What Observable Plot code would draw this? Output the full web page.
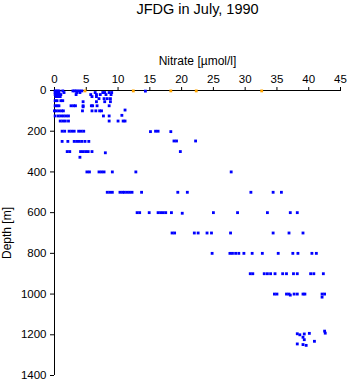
<!DOCTYPE html>
<html>
<head>
<meta charset="utf-8">
<script src="https://cdn.jsdelivr.net/npm/d3@7"></script>
<script src="https://cdn.jsdelivr.net/npm/@observablehq/plot@0.6"></script>
<style>
  html, body { margin: 0; padding: 0; background: #fff; }
</style>
</head>
<body>
<div id="chart"></div>
<script>
const title = "JFDG in July, 1990";
const xLabel = "Nitrate [µmol/l]";
const yLabel = "Depth [m]";
const xTicks = [0, 5, 10, 15, 20, 25, 30, 35, 40, 45];
const yTicks = [0, 200, 400, 600, 800, 1000, 1200, 1400];

// blue samples: nitrate (µmol/l) and depth (m), parallel arrays
const blueNitrate = [
  // ~0 m
  0.1, 0.4, 0.7, 1.3, 2.9, 3.2, 3.5, 3.9, 4.3, 14.3,
  // 10 m
  0.1, 0.4, 0.7, 1.5, 3.5, 4.0, 6.4, 7.6, 7.9, 8.6, 9.0,
  // 20 m
  0.1, 0.4, 0.7, 1.0, 3.4, 5.7, 6.6, 7.2, 8.1, 8.9,
  // 30-40 m
  0.2, 0.5, 0.9, 5.9, 6.6, 7.0, 7.8, 8.3, 8.8,
  // 50 m
  0.1, 0.4, 1.0, 1.3, 4.5, 6.6, 7.9, 8.8,
  // 75 m
  0.1, 0.4, 0.7, 2.6, 3.0, 3.3, 4.5, 5.8, 6.0, 6.7, 8.6,
  // 80-100 m
  4.5, 11.1, 0.0, 0.3, 0.7, 1.1, 1.4, 4.4, 5.9, 6.5, 7.1, 7.4,
  // 125 m
  0.1, 0.6, 1.0, 1.4, 1.8, 2.2, 7.7, 8.6, 10.6,
  // 150 m
  0.9, 1.3, 1.7, 2.2, 8.6, 10.0, 10.8, 11.1,
  // 200 m
  1.2, 1.6, 2.3, 2.7, 3.1, 3.8, 4.2, 4.6, 15.1, 15.9, 16.3, 18.3,
  // 250 m
  1.2, 2.1, 3.1, 3.5, 3.9, 4.3, 4.8, 5.4, 18.8, 19.2, 22.2,
  // 300 m
  2.0, 2.4, 4.1, 4.5, 4.9, 5.3, 5.9, 8.0, 19.8, 4.0,
  // 400 m
  5.1, 5.5, 7.0, 7.4, 7.8, 9.1, 12.8, 27.8,
  // 500 m
  8.3, 8.7, 9.1, 10.3, 10.7, 11.0, 11.4, 11.8, 12.2, 13.7, 19.4, 20.9, 30.9, 34.4, 35.7,
  // 600 m
  13.0, 13.4, 14.9, 16.3, 16.7, 17.1, 17.5, 18.4, 20.1, 25.0, 28.8, 33.5, 37.1, 38.2,
  // 700 m
  18.5, 18.9, 22.0, 22.6, 24.0, 24.7, 27.7, 34.4, 36.9, 39.1,
  // 800 m
  24.8, 27.6, 28.0, 28.5, 29.0, 29.8, 31.1, 32.7, 35.2, 37.5, 38.3, 40.5, 41.2,
  // 900 m
  30.8, 31.2, 33.0, 33.5, 34.0, 34.7, 35.9, 36.5, 37.6, 38.2, 40.3, 40.8, 42.3,
  // 1000 m
  34.6, 35.0, 36.5, 36.9, 37.1, 37.7, 38.2, 39.1, 39.4, 42.1, 42.5, 42.1,
  // 1200-1250 m
  42.5, 42.6, 38.2, 38.6, 39.3, 40.1, 39.1, 39.3, 40.9, 38.2, 39.1, 39.6
];
const blueDepth = [
  2, 2, 2, 2, 2, 2, 2, 2, 2, 3,
  10, 10, 10, 10, 10, 10, 10, 10, 10, 10, 10,
  20, 20, 20, 20, 20, 20, 20, 20, 20, 20,
  30, 30, 30, 30, 30, 40, 40, 40, 40,
  50, 50, 50, 50, 55, 55, 55, 55,
  75, 75, 75, 75, 75, 75, 75, 75, 75, 75, 75,
  80, 96, 100, 100, 100, 100, 100, 100, 100, 100, 100, 100,
  125, 125, 125, 125, 125, 125, 125, 125, 122,
  150, 150, 150, 150, 150, 150, 150, 150,
  200, 200, 200, 200, 200, 200, 200, 200, 202, 200, 200, 202,
  250, 250, 250, 250, 250, 250, 250, 250, 248, 248, 248,
  300, 300, 300, 300, 300, 300, 300, 306, 300, 328,
  400, 400, 400, 400, 400, 400, 400, 400,
  500, 500, 500, 500, 500, 500, 500, 500, 500, 500, 500, 500, 500, 500, 500,
  600, 600, 600, 600, 600, 600, 600, 600, 603, 600, 600, 600, 600, 600,
  700, 700, 700, 700, 700, 700, 700, 700, 700, 700,
  800, 800, 800, 800, 800, 800, 800, 800, 800, 800, 800, 800, 800,
  900, 900, 900, 900, 900, 900, 900, 900, 900, 900, 900, 900, 900,
  1000, 1000, 1000, 1000, 1005, 1000, 1000, 1000, 1000, 1000, 1000, 1015,
  1182, 1192, 1195, 1200, 1196, 1193, 1212, 1224, 1232, 1245, 1248, 1252
];

// orange surface samples
const orangeNitrate = [4.8, 12.4, 18.3, 22.3, 32.6];
const orangeDepth = [2, 2, 2, 2, 2];

const blue = blueNitrate.map((v, i) => ({nitrate: v, depth: blueDepth[i]}));
const orange = orangeNitrate.map((v, i) => ({nitrate: v, depth: orangeDepth[i]}));

const chart = Plot.plot({
  width: 348,
  height: 384,
  marginTop: 90,
  marginLeft: 54,
  marginRight: 8,
  marginBottom: 9,
  style: {
    fontFamily: "'Liberation Sans', Arial, Helvetica, sans-serif",
    fontSize: "11.5px",
    background: "#fff",
    color: "#000",
    overflow: "visible"
  },
  x: {domain: [0, 45], axis: "top", ticks: xTicks, tickFormat: d3.format("d"), tickSize: 4, tickPadding: 4, label: null},
  y: {domain: [0, 1400], reverse: true, ticks: yTicks, tickFormat: d3.format("d"), tickSize: 4, tickPadding: 4, label: null},
  marks: [
    Plot.ruleY([0], {stroke: "#000", strokeWidth: 1}),
    Plot.ruleX([0], {stroke: "#000", strokeWidth: 1}),
    Plot.dot(blue, {x: "nitrate", y: "depth", symbol: "square", r: 1.6, fill: "#0000ff", stroke: "none"}),
    Plot.dot(orange, {x: "nitrate", y: "depth", symbol: "square", r: 1.6, fill: "#ffa500", stroke: "none"}),
    Plot.text([title], {text: d => d, frameAnchor: "top", lineAnchor: "middle", dy: -81, fontSize: 14.5}),
    Plot.text([xLabel], {text: d => d, frameAnchor: "top", lineAnchor: "middle", dy: -29, fontSize: 12}),
    Plot.text([yLabel], {text: d => d, frameAnchor: "left", textAnchor: "middle", lineAnchor: "middle", dx: -47, rotate: -90, fontSize: 12})
  ]
});
document.getElementById("chart").appendChild(chart);
</script>
</body>
</html>
